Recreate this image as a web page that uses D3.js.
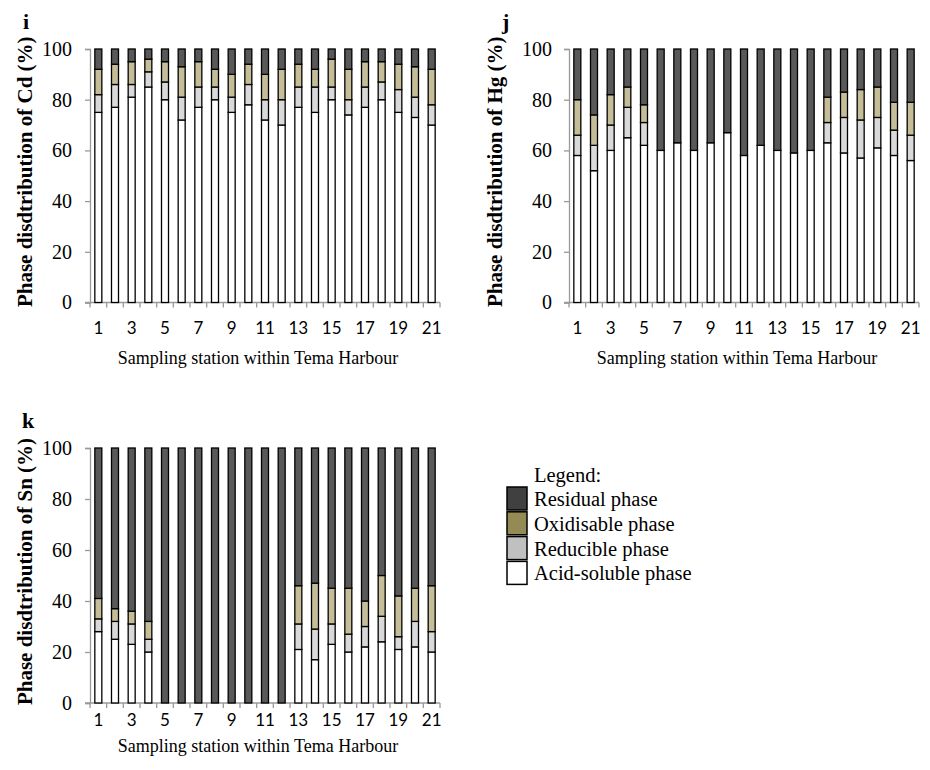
<!DOCTYPE html>
<html><head><meta charset="utf-8">
<script src="https://cdn.jsdelivr.net/npm/d3@7"></script>
<style>body{margin:0;background:#fff}svg{display:block}</style>
</head><body>
<svg id="c" width="930" height="770"></svg>
<script>
const stations = d3.range(1, 22).map(String);
const xTickLabels = ["1","3","5","7","9","11","13","15","17","19","21"];
const yTicks = [0, 20, 40, 60, 80, 100];
const phases = ["acid", "reducible", "oxidisable", "residual"];
const legendLabels = ["Residual phase", "Oxidisable phase", "Reducible phase", "Acid-soluble phase"];

// Panel i: Cd
const cdAcid = [75,77,81,85,80,72,77,80,75,78,72,70,77,75,80,74,77,80,75,73,70];
const cdRed  = [7,9,5,6,7,9,8,5,6,8,8,10,8,10,5,6,8,7,9,8,8];
const cdOx   = [10,8,9,5,8,12,10,7,9,8,10,12,9,7,11,12,10,8,10,12,14];
const cdRes  = [8,6,5,4,5,7,5,8,10,6,10,8,6,8,4,8,5,5,6,7,8];
// Panel j: Hg
const hgAcid = [58,52,60,65,62,60,63,60,63,67,58,62,60,59,60,63,59,57,61,58,56];
const hgRed  = [8,10,10,12,9,0,0,0,0,0,0,0,0,0,0,8,14,15,12,10,10];
const hgOx   = [14,12,12,8,7,0,0,0,0,0,0,0,0,0,0,10,10,12,12,11,13];
const hgRes  = [20,26,18,15,22,40,37,40,37,33,42,38,40,41,40,19,17,16,15,21,21];
// Panel k: Sn
const snAcid = [28,25,23,20,0,0,0,0,0,0,0,0,21,17,23,20,22,24,21,22,20];
const snRed  = [5,7,8,5,0,0,0,0,0,0,0,0,10,12,8,7,8,10,5,10,8];
const snOx   = [8,5,5,7,0,0,0,0,0,0,0,0,15,18,14,18,10,16,16,13,18];
const snRes  = [59,63,64,68,100,100,100,100,100,100,100,100,54,53,55,55,60,50,58,55,54];

const barColor = {acid:"#ffffff", reducible:"#d9d9d9", oxidisable:"#c4bd97", residual:"#595959"};
const legColor = ["#404040", "#948a54", "#c0c0c0", "#ffffff"];

const svg = d3.select("#c");
const serif = "'Liberation Serif','Times New Roman',serif";
const sans = "Lato,'Liberation Sans',sans-serif";

function panel(o) {
  const rows = stations.map((s, i) => ({station: s, acid: o.acid[i], reducible: o.red[i], oxidisable: o.ox[i], residual: o.res[i]}));
  const series = d3.stack().keys(phases)(rows);
  const x = d3.scaleBand().domain(stations).range([o.x0, o.x1]).paddingInner(0.58).paddingOuter(0.29);
  const y = d3.scaleLinear().domain([0, 100]).range([o.yb, o.yt]);
  const g = svg.append("g");

  // y axis
  const ya = g.append("g").attr("transform", `translate(${o.x0},0)`)
    .call(d3.axisLeft(y).tickValues(yTicks).tickSize(5).tickPadding(o.ypad));
  ya.select(".domain").attr("stroke", "#9a9a9a").attr("stroke-width", 1.3);
  ya.selectAll(".tick line").attr("stroke", "#9a9a9a").attr("stroke-width", 1.3);
  ya.selectAll(".tick text").attr("font-family", serif).attr("font-size", 20).attr("fill", "#000");

  // x axis
  const xa = g.append("g").attr("transform", `translate(0,${o.yb})`)
    .call(d3.axisBottom(x).tickSize(0).tickPadding(o.xpad).tickFormat(d => xTickLabels.includes(d) ? d : ""));
  xa.select(".domain").remove();
  xa.selectAll(".tick text").attr("font-family", sans).attr("font-size", 17).attr("fill", "#000");
  g.append("line").attr("x1", o.x0 - 5).attr("x2", o.x1).attr("y1", o.yb).attr("y2", o.yb)
    .attr("stroke", "#9a9a9a").attr("stroke-width", 1.3);
  const bounds = stations.map(s => x(s) - x.step() * x.paddingInner() / 2).concat([o.x1]);
  g.selectAll(".xt").data(bounds).join("line")
    .attr("x1", d => d).attr("x2", d => d).attr("y1", o.yb).attr("y2", o.yb + 5)
    .attr("stroke", "#9a9a9a").attr("stroke-width", 1.3);

  // bars
  series.forEach(ser => {
    g.append("g").selectAll("rect").data(ser.filter(d => d[1] - d[0] > 0)).join("rect")
      .attr("x", d => x(d.data.station))
      .attr("width", x.bandwidth())
      .attr("y", d => y(d[1]))
      .attr("height", d => y(d[0]) - y(d[1]))
      .attr("fill", barColor[ser.key])
      .attr("stroke", "#000").attr("stroke-width", 1.3);
  });

  // titles
  g.append("text").attr("transform", `translate(${o.ytx},${(o.yt + o.yb) / 2 - 4}) rotate(-90)`)
    .attr("text-anchor", "middle").attr("font-family", serif).attr("font-weight", "bold")
    .attr("font-size", 21).text(o.ytitle);
  g.append("text").attr("x", (o.x0 + o.x1) / 2 - 7).attr("y", o.xty)
    .attr("text-anchor", "middle").attr("font-family", serif).attr("font-size", 18)
    .text("Sampling station within Tema Harbour");
  g.append("text").attr("x", o.lx).attr("y", o.ly).attr("font-family", serif)
    .attr("font-weight", "bold").attr("font-size", 22).text(o.letter);
}

panel({acid: cdAcid, red: cdRed, ox: cdOx, res: cdRes, x0: 90, x1: 440, yt: 49, yb: 302.5,
  ypad: 13, xpad: 19, ytx: 32, xty: 364, ytitle: "Phase disdtribution of Cd (%)", letter: "i", lx: 23, ly: 29});
panel({acid: hgAcid, red: hgRed, ox: hgOx, res: hgRes, x0: 569, x1: 919, yt: 49, yb: 302.5,
  ypad: 12, xpad: 19, ytx: 502, xty: 364, ytitle: "Phase disdtribution of Hg (%)", letter: "j", lx: 502, ly: 29});
panel({acid: snAcid, red: snRed, ox: snOx, res: snRes, x0: 90, x1: 440, yt: 448, yb: 703,
  ypad: 13, xpad: 11, ytx: 32, xty: 752, ytitle: "Phase disdtribution of Sn (%)", letter: "k", lx: 22, ly: 428});

// legend
const lg = svg.append("g");
lg.append("text").attr("x", 534).attr("y", 482).attr("font-family", serif).attr("font-size", 20.5).text("Legend:");
legendLabels.forEach((t, i) => {
  lg.append("rect").attr("x", 507).attr("y", 487 + i * 24.8).attr("width", 20).attr("height", 23)
    .attr("fill", legColor[i]).attr("stroke", "#000").attr("stroke-width", 1.5);
  lg.append("text").attr("x", 534).attr("y", 506 + i * 24.8).attr("font-family", serif)
    .attr("font-size", 20.5).text(t);
});
</script>
</body></html>
